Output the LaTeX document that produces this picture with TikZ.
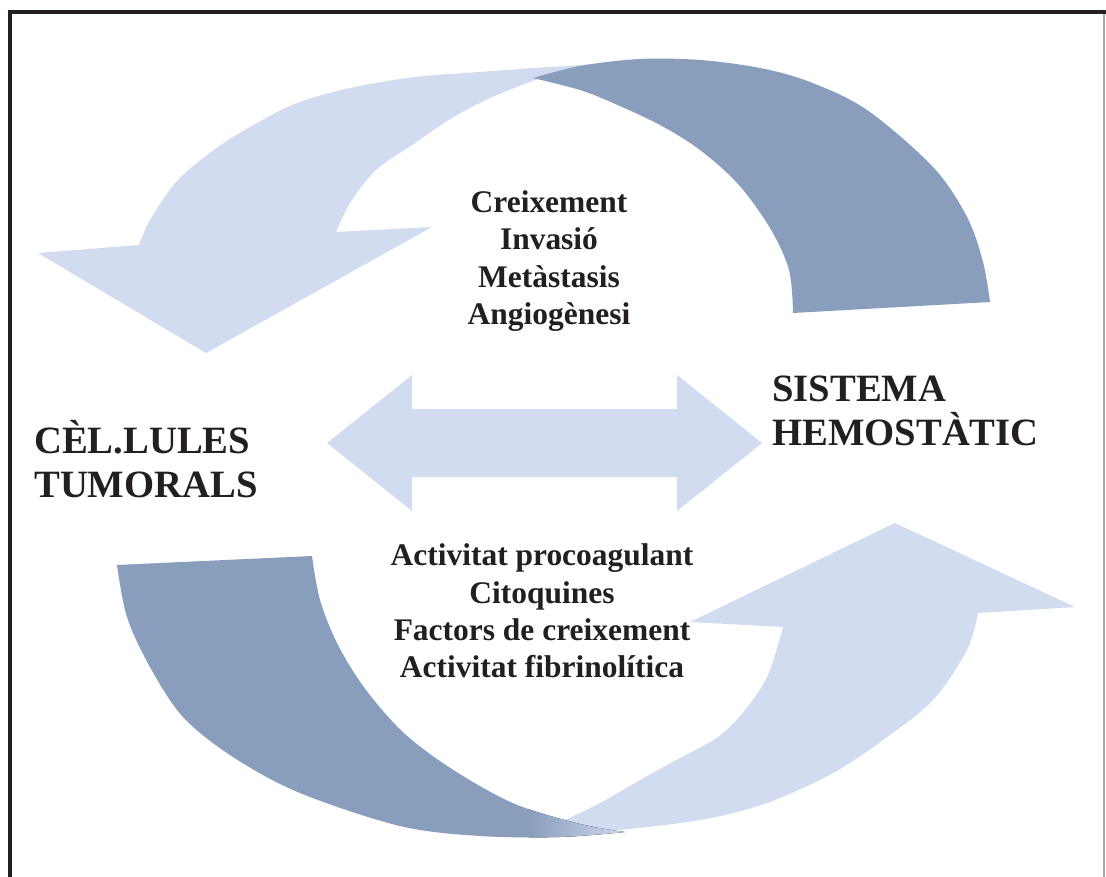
\documentclass[tikz,border=0pt]{standalone}
\usepackage{fontspec}
\setmainfont{Liberation Serif}
\definecolor{paleblue}{RGB}{209,220,240}
\definecolor{slateblue}{RGB}{137,157,188}
\definecolor{inkblack}{RGB}{35,31,32}
\begin{document}
\begin{tikzpicture}[x=0.75pt, y=-0.75pt,
  listtxt/.style={font={\fontsize{23.6pt}{28pt}\selectfont\bfseries},
                  align=center, inner sep=0pt, text=inkblack},
  bigtxt/.style={font={\fontsize{29pt}{33pt}\selectfont\bfseries},
                 align=left, inner sep=0pt, text=inkblack},
  pale/.style={fill=paleblue},
  deep/.style={fill=slateblue},
  smooth edge/.style={smooth, tension=0.55}
]
  \useasboundingbox (0,0) rectangle (1106,877);
  \fill[white] (0,0) rectangle (1106,877);

  % frame
  \draw[inkblack, line width=3pt] (10,877) -- (10,12) -- (1106,12);
  \draw[black!35, line width=1.5pt] (1104,14) -- (1104,877);

  % upper loop arrow
  \fill[pale] (620,61)
    -- plot[smooth edge] coordinates {(620,61) (580,65) (534,68) (480,72)
        (415,77) (350,88) (297,103) (257,123) (218,147) (178,180) (150,220)
        (139,245)}
    -- (38,253) -- (206,353) -- (432,227) -- (336,232)
    -- plot[smooth edge] coordinates {(336,232) (350,203) (376,170) (415,143)
        (452,118) (490,98) (535,80)}
    -- cycle;
  \fill[deep] (533,78)
    -- plot[smooth edge] coordinates {(533,78) (580,66) (640,59) (700,60)
        (760,68) (810,82) (867,110) (933,167) (967,217) (983,262) (990,302)}
    -- (793,313)
    -- plot[smooth edge] coordinates {(793,313) (789,270) (770,228)
        (738,184) (700,150) (660,125) (613,103) (580,90) (533,78)}
    -- cycle;

  % lower loop arrow
  \fill[pale] (540,836)
    -- plot[smooth edge] coordinates {(540,836) (600,832) (700,820) (767,803)
        (833,773) (883,740) (933,700) (967,650) (978,613)}
    -- (1075,607) -- (895,523) -- (690,622) -- (783,627)
    -- plot[smooth edge] coordinates {(783,627) (768,675) (745,710) (718,737)
        (680,758) (640,780) (602,802) (565,820)}
    -- cycle;
  \begin{scope}
    \clip (117,565)
      -- plot[smooth edge] coordinates {(117,565) (127,617) (150,667) (183,717)
          (233,757) (300,793) (400,826) (480,836) (560,837) (625,832)}
      -- plot[smooth edge] coordinates {(625,832) (580,824) (515,804)
          (455,771) (405,734) (366,690) (338,645) (320,600) (312,556)}
      -- cycle;
    \fill[deep] (100,540) rectangle (530,850);
    \fill[left color=slateblue, right color=paleblue] (529,780) rectangle (630,850);
  \end{scope}

  % two-way arrow
  \fill[pale] (327,443) -- (412,375) -- (412,409) -- (677,409) -- (677,375)
    -- (762,443) -- (677,511) -- (677,477) -- (412,477) -- (412,511) -- cycle;

  \node[listtxt] (growth) at (549,261)
    {Creixement\\Invasió\\Metàstasis\\Angiogènesi};
  \node[listtxt] (procoag) at (542,611)
    {Activitat procoagulant\\Citoquines\\Factors de creixement\\Activitat fibrinolítica};
  \node[bigtxt, anchor=west] (tumour) at (34,459) {CÈL.LULES\\TUMORALS};
  \node[bigtxt, anchor=west] (haemo) at (772,411) {SISTEMA\\HEMOSTÀTIC};
\end{tikzpicture}
\end{document}
